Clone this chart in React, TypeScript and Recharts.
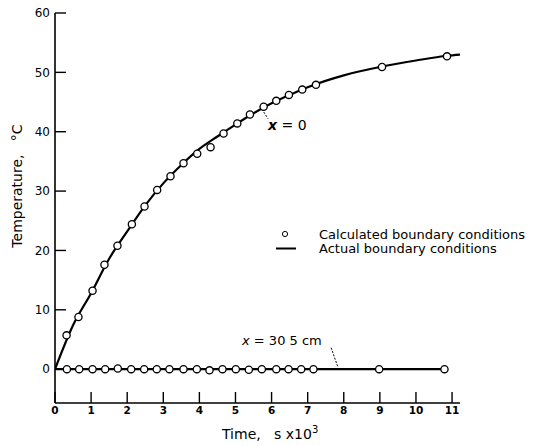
import React from "react";
import { ComposedChart, Line, Scatter, XAxis, YAxis, ReferenceLine } from "recharts";

// time in s x 10^3, temperature in deg C
const xTicks = [0, 1, 2, 3, 4, 5, 6, 7, 8, 9, 10, 11];
const yTicks = [0, 10, 20, 30, 40, 50, 60];

// actual boundary condition, x = 0
const surfaceActual = [
  { t: 0, v: 0 }, { t: 0.5, v: 7.4 }, { t: 1, v: 12.8 }, { t: 1.5, v: 18.6 },
  { t: 2, v: 23.2 }, { t: 2.5, v: 27.6 }, { t: 3, v: 31.3 }, { t: 3.5, v: 34.4 },
  { t: 4, v: 37.1 }, { t: 4.5, v: 39.2 }, { t: 5, v: 41.2 }, { t: 5.5, v: 43.1 },
  { t: 6, v: 44.8 }, { t: 6.5, v: 46.2 }, { t: 7, v: 47.5 }, { t: 8, v: 49.5 },
  { t: 9, v: 50.9 }, { t: 10, v: 52.0 }, { t: 10.86, v: 52.8 }, { t: 11.22, v: 53.0 },
];

// calculated boundary condition, x = 0
const surfaceCalc = [
  { t: 0.32, v: 5.7 }, { t: 0.65, v: 8.8 }, { t: 1.04, v: 13.2 }, { t: 1.37, v: 17.6 },
  { t: 1.73, v: 20.8 }, { t: 2.13, v: 24.4 }, { t: 2.48, v: 27.4 }, { t: 2.83, v: 30.2 },
  { t: 3.2, v: 32.5 }, { t: 3.56, v: 34.7 }, { t: 3.94, v: 36.3 }, { t: 4.31, v: 37.4 },
  { t: 4.67, v: 39.7 }, { t: 5.05, v: 41.4 }, { t: 5.4, v: 42.9 }, { t: 5.78, v: 44.2 },
  { t: 6.13, v: 45.2 }, { t: 6.48, v: 46.2 }, { t: 6.85, v: 47.1 }, { t: 7.23, v: 47.9 },
  { t: 9.06, v: 50.9 }, { t: 10.86, v: 52.7 },
];

// x = 30.5 cm
const deepActual = [
  { t: 0, v: 0 }, { t: 10.8, v: 0 },
];

const deepCalc = [
  { t: 0.33, v: 0 }, { t: 0.67, v: 0 }, { t: 1.04, v: 0 }, { t: 1.39, v: 0 },
  { t: 1.74, v: 0.1 }, { t: 2.11, v: 0 }, { t: 2.47, v: 0 }, { t: 2.82, v: 0 },
  { t: 3.17, v: 0 }, { t: 3.56, v: 0 }, { t: 3.93, v: 0 }, { t: 4.28, v: -0.2 },
  { t: 4.64, v: 0 }, { t: 5.01, v: 0 }, { t: 5.37, v: -0.1 }, { t: 5.73, v: 0 },
  { t: 6.13, v: 0 }, { t: 6.47, v: 0 }, { t: 6.82, v: 0 }, { t: 7.16, v: 0 },
  { t: 8.98, v: 0 }, { t: 10.79, v: 0 },
];

const FONT = "'DejaVu Sans', sans-serif";

const OpenDot = (props: any) => (
  <circle cx={props.cx} cy={props.cy} r={3.6} fill="#fff" stroke="#000" strokeWidth={1.3} />
);

export default function App() {
  return (
    <div style={{ position: "absolute", left: 0, top: 0, width: 540, height: 446, background: "#fff", fontFamily: FONT }}>
      <ComposedChart width={540} height={446} margin={{ top: 13, right: 80, bottom: 0, left: 0 }}>
        <XAxis
          type="number"
          dataKey="t"
          domain={[0, 11.22]}
          ticks={xTicks}
          allowDataOverflow
          height={43}
          tickSize={-11}
          tickMargin={15}
          axisLine={{ stroke: "#000", strokeWidth: 1.6 }}
          tickLine={{ stroke: "#000", strokeWidth: 1.4 }}
          tick={{ fill: "#000", fontSize: 10.5, fontWeight: 600, fontFamily: FONT }}
        />
        <YAxis
          type="number"
          dataKey="v"
          domain={[-5.7, 60]}
          ticks={yTicks}
          allowDataOverflow
          width={55}
          tickSize={-11}
          tickMargin={16}
          axisLine={{ stroke: "#000", strokeWidth: 1.6 }}
          tickLine={{ stroke: "#000", strokeWidth: 1.4 }}
          tick={{ fill: "#000", fontSize: 12, fontFamily: FONT }}
        />
        <Line data={surfaceActual} dataKey="v" type="monotone" stroke="#000" strokeWidth={2.2} dot={false} isAnimationActive={false} />
        <Line data={deepActual} dataKey="v" type="linear" stroke="#000" strokeWidth={2.2} dot={false} isAnimationActive={false} />
        <Scatter data={surfaceCalc} dataKey="v" shape={OpenDot} isAnimationActive={false} />
        <Scatter data={deepCalc} dataKey="v" shape={OpenDot} isAnimationActive={false} />
        <ReferenceLine segment={[{ x: 5.68, y: 44.3 }, { x: 5.9, y: 42.2 }]} stroke="#000" strokeWidth={1} strokeDasharray="2 1.5" ifOverflow="visible" />
        <ReferenceLine segment={[{ x: 7.65, y: 3.6 }, { x: 7.84, y: 0.3 }]} stroke="#000" strokeWidth={1} strokeDasharray="2 1.5" ifOverflow="visible" />
      </ComposedChart>
      <svg width={540} height={446} style={{ position: "absolute", left: 0, top: 0, pointerEvents: "none" }} fontFamily={FONT} fill="#000">
        <text x={17} y={186} transform="rotate(-90 17 186)" textAnchor="middle" dominantBaseline="central" fontSize={14}>
          Temperature,{"\u00a0\u00a0\u00a0"}°C
        </text>
        <text x={222} y={439} fontSize={14}>
          Time,{"\u00a0\u00a0\u00a0"}s x10<tspan dy={-6} fontSize={10}>3</tspan>
        </text>
        <text x={268} y={130} fontSize={14}>
          <tspan fontStyle="italic" fontWeight={700}>x</tspan> = 0
        </text>
        <text x={242} y={345} fontSize={13}>
          <tspan fontStyle="italic">x</tspan> = 30 5 cm
        </text>
        <circle cx={285} cy={234} r={2.6} fill="#fff" stroke="#000" strokeWidth={1} />
        <line x1={276} y1={248.5} x2={296} y2={248.5} stroke="#000" strokeWidth={2} />
        <text x={319} y={239} fontSize={13}>Calculated boundary conditions</text>
        <text x={319} y={253} fontSize={13}>Actual boundary conditions</text>
      </svg>
    </div>
  );
}
